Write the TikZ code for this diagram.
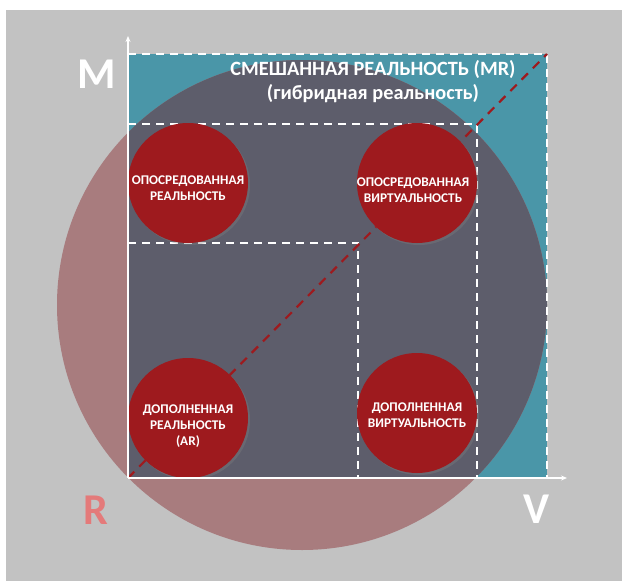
\documentclass[tikz,border=0pt]{standalone}
\usepackage{fontspec}
\setmainfont{Carlito}
\usetikzlibrary{arrows.meta,shadows}
\definecolor{bggray}{RGB}{194,194,194}
\definecolor{mrteal}{RGB}{74,150,168}
\definecolor{mrdark}{RGB}{93,93,107}
\definecolor{rpink}{RGB}{168,124,126}
\definecolor{blobred}{RGB}{158,26,30}
\definecolor{rletter}{RGB}{228,122,122}
\tikzset{
  >/.tip={Stealth[length=6pt,width=5pt]},
  blob/.style={circle, fill=blobred, minimum size=120pt, inner sep=0pt,
    drop shadow={opacity=0.35, shadow xshift=2pt, shadow yshift=-2pt}},
  blobtext/.style={text=white, font=\bfseries\fontsize{13.3}{16}\selectfont, align=center},
  zone/.style={white, line width=2.2pt, dash pattern=on 8pt off 6pt},
  axis/.style={white, line width=2pt, ->},
  bigletter/.style={font=\bfseries\fontsize{44}{44}\selectfont},
}

\begin{document}
\begin{tikzpicture}[x=1pt, y=-1pt]
 \useasboundingbox (0,0) rectangle (622,581);
 \fill[white] (0,0) rectangle (622,581);
 \fill[bggray] (6,10) rectangle (622,581);

 \coordinate (origin)   at (128,478);
 \coordinate (mrcorner) at (547,54);
 \coordinate (mcorner)  at (477,124);
 \coordinate (arcorner) at (358,243);
 \coordinate (mtip)     at (128,36);
 \coordinate (vtip)     at (567,478);

 % mixed reality field and the reality circle
 \fill[mrteal] (origin) rectangle (mrcorner);
 \fill[rpink] (302,305) circle (245);
 \begin{scope}
  \clip (origin) rectangle (mrcorner);
  \fill[mrdark] (302,305) circle (245);
 \end{scope}

 \draw[zone] (origin |- mrcorner) -- (mrcorner) -- (mrcorner |- origin);
 \draw[zone] (origin |- mcorner) -- (mcorner) -- (mcorner |- origin);
 \draw[zone] (origin |- arcorner) -- (arcorner) -- (arcorner |- origin);
 \draw[blobred, line width=2.2pt, dash pattern=on 9pt off 7pt] (origin) -- (mrcorner);

 \node[blob] (medreal) at (188,183) {};
 \node[blob] (medvirt) at (417,183) {};
 \node[blob] (augreal) at (188,418) {};
 \node[blob] (augvirt) at (417,413) {};

 \node[blobtext] (medrealtxt) at (188,188) {ОПОСРЕДОВАННАЯ\\РЕАЛЬНОСТЬ};
 \node[blobtext] (medvirttxt) at (413,190) {ОПОСРЕДОВАННАЯ\\ВИРТУАЛЬНОСТЬ};
 \node[blobtext] (augrealtxt) at (188,426) {ДОПОЛНЕННАЯ\\РЕАЛЬНОСТЬ\\(AR)};
 \node[blobtext] (augvirttxt) at (417,415) {ДОПОЛНЕННАЯ\\ВИРТУАЛЬНОСТЬ};

 \node[text=white, font=\bfseries\fontsize{20.3}{24}\selectfont, align=center] (mrtitle)
   at (373,82) {СМЕШАННАЯ РЕАЛЬНОСТЬ (MR)\\(гибридная реальность)};

 \draw[axis] (origin) -- (mtip);
 \draw[axis] (origin) -- (vtip);

 \node[bigletter, white]   (mlabel) at (97,74)   {M};
 \node[bigletter, rletter] (rlabel) at (96,510)  {R};
 \node[bigletter, white]   (vlabel) at (537,509) {V};
\end{tikzpicture}
\end{document}
